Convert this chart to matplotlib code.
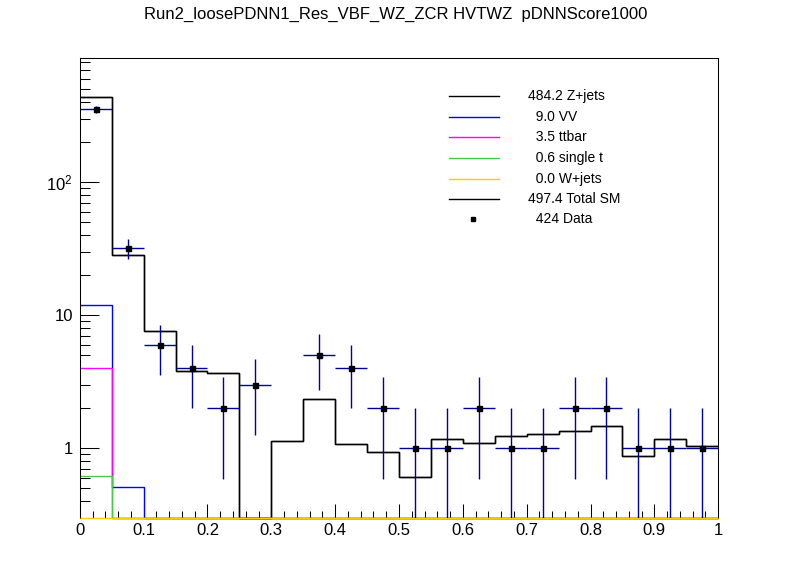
import numpy as np
import matplotlib
matplotlib.use("Agg")
import matplotlib.pyplot as plt
from matplotlib.lines import Line2D
from matplotlib.ticker import MultipleLocator, LogLocator, FixedLocator, FixedFormatter, NullFormatter

plt.rcParams['font.family'] = ['Liberation Sans', 'DejaVu Sans']
plt.rcParams['mathtext.fontset'] = 'custom'
plt.rcParams['mathtext.rm'] = 'Liberation Sans'
plt.rcParams['mathtext.it'] = 'Liberation Sans'

title = "Run2_loosePDNN1_Res_VBF_WZ_ZCR HVTWZ  pDNNScore1000"
bin_edges = [0.0, 0.05, 0.1, 0.15, 0.2, 0.25, 0.3, 0.35, 0.4, 0.45, 0.5,
             0.55, 0.6, 0.65, 0.7, 0.75, 0.8, 0.85, 0.9, 0.95, 1.0]
zjets = [429.0, 28.1, 7.67, 3.84, 3.71, 0.0, 1.14, 2.34, 1.07, 0.94,
         0.61, 1.18, 1.10, 1.23, 1.29, 1.36, 1.48, 0.88, 1.18, 1.05]
vv = [8.0, 0.515] + [0.0] * 18
ttbar = [3.42] + [0.0] * 19
single_t = [0.62] + [0.0] * 19
wjets = [0.0] * 20
data = [353, 32, 6, 4, 2, 3, 0, 5, 4, 2, 1, 1, 2, 1, 1, 2, 2, 1, 1, 1]

legend_labels = ["484.2 Z+jets", "  9.0 VV", "  3.5 ttbar", "  0.6 single t",
                 "  0.0 W+jets", "497.4 Total SM", "  424 Data"]
colors = ["black", "#0000ff", "#ff00ff", "#44cc44", "#ffcc00", "black"]

W, H = 798, 575
fig = plt.figure(figsize=(W / 100, H / 100), dpi=100)
ax = fig.add_axes([0.1, 0.1, 0.8, 0.8])

ymin, ymax = 0.302, 867.0
edges = np.array(bin_edges)

# stacked cumulative sums (bottom -> top: W+jets, single t, ttbar, VV, Z+jets)
comps = [np.array(wjets), np.array(single_t), np.array(ttbar), np.array(vv), np.array(zjets)]
cum = np.cumsum(np.vstack(comps), axis=0)
total = cum[-1]

def clipv(v):
    return np.where(v > ymin, v, ymin)

lw = 1.0
ax.stairs(clipv(total), edges, color="black", linewidth=lw, baseline=None, clip_on=False, zorder=3)
stack_cols = ["#ffcc00", "#44cc44", "#ff00ff", "#0000ff", "black"]
for i in range(4, -1, -1):
    ax.stairs(clipv(cum[i]), edges, color=stack_cols[i], linewidth=lw, baseline=None,
              clip_on=False, zorder=4 if i == 0 else 3)

centers = 0.5 * (edges[1:] + edges[:-1])
d = np.array(data, dtype=float)
m = d > 0
ax.errorbar(centers[m], d[m], xerr=0.025, yerr=np.sqrt(d[m]), fmt='s',
            color='black', ecolor='#000099', elinewidth=1.0, capsize=0,
            markersize=3.6, zorder=4.5)

ax.set_yscale('log')
ax.set_xlim(0, 1)
ax.set_ylim(ymin, ymax)

ax.xaxis.set_major_locator(MultipleLocator(0.1))
ax.xaxis.set_minor_locator(MultipleLocator(0.02))
ax.xaxis.set_major_formatter(plt.FuncFormatter(lambda v, p: f"{v:g}"))
ax.yaxis.set_major_locator(FixedLocator([1, 10, 100]))
ax.yaxis.set_major_formatter(FixedFormatter(["1", "10", r"$\mathregular{10^{2}}$"]))
ax.yaxis.set_minor_locator(LogLocator(base=10, subs=np.arange(2, 10)))
ax.yaxis.set_minor_formatter(NullFormatter())

ax.tick_params(axis='both', which='both', direction='in', top=False, right=False,
               width=0.75, labelsize=12)
ax.tick_params(axis='x', which='major', length=10, pad=4)
ax.tick_params(axis='x', which='minor', length=5)
ax.tick_params(axis='y', which='major', length=13.7, pad=5)
ax.tick_params(axis='y', which='minor', length=7.2)
for s in ax.spines.values():
    s.set_linewidth(0.75)
    s.set_zorder(3.5)

fig.text(395.4 / W, 1 - 19 / H, title, ha='center', va='baseline', fontsize=12)

# legend
rows = [96, 116.7, 137.3, 158, 178.7, 199, 219.3]
for i, (lab, y) in enumerate(zip(legend_labels, rows)):
    fy = 1 - y / H
    if i < 6:
        fig.add_artist(Line2D([449 / W, 498.7 / W], [fy, fy], color=colors[i], linewidth=1.0))
    else:
        fig.add_artist(Line2D([472.7 / W], [fy], marker='s', color='black', markersize=2.6,
                              linestyle='none'))
    fig.text(527.7 / W, fy, lab, ha='left', va='center', fontsize=10)

fig.savefig("out.png", dpi=100)
